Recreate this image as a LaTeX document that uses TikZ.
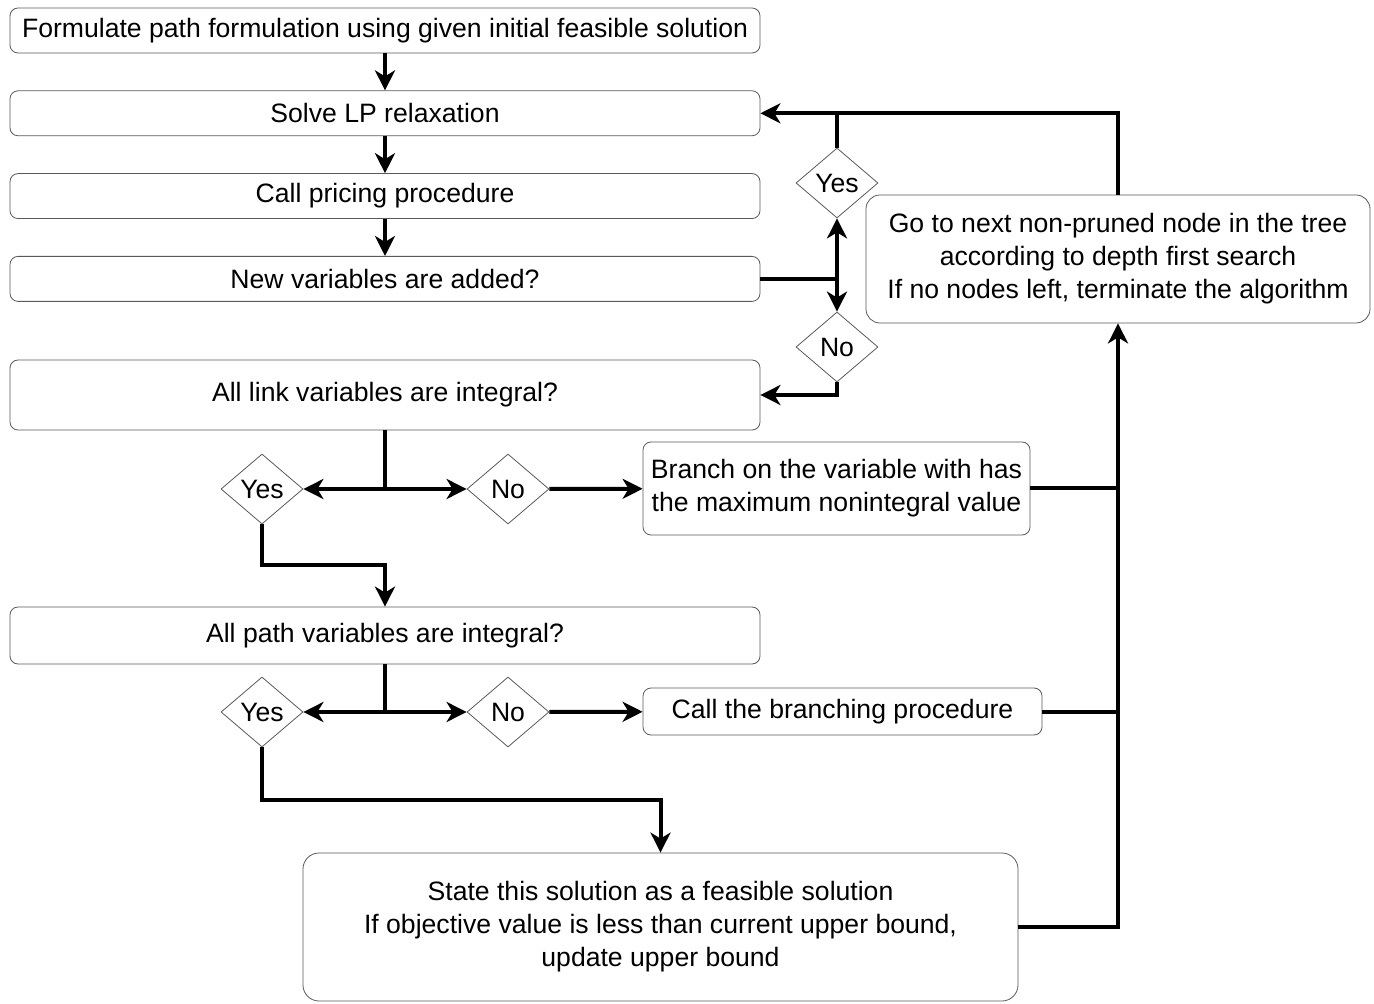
\documentclass[tikz,border=0pt]{standalone}
\usepackage{fontspec}
\setmainfont{Liberation Sans}
\usetikzlibrary{arrows.meta,positioning,shapes.geometric}

\begin{document}
\begin{tikzpicture}[
        x=0.5pt, y=-0.5pt,
        box/.style={draw=black!65, rounded corners=4pt, align=center, inner sep=1pt,
          font=\fontsize{13.3}{16.5}\selectfont, minimum height=22.5pt},
        wide/.style={box, minimum width=375pt},
        decision/.style={draw=black!65, diamond, inner sep=0pt, minimum width=41pt,
          minimum height=35pt, font=\fontsize{13.3}{14}\selectfont},
        arrow/.style={-{Stealth[length=10pt, width=10pt, inset=3pt]}, line width=2pt},
        link/.style={line width=2pt},
        node distance=18.5pt and 47pt
      ]
        \useasboundingbox (0,0) rectangle (1374,1004);
        % main column
        \node[wide] (form) at (385,30.5) {Formulate path formulation using given initial feasible solution};
        \node[wide, below=of form] (solve) {Solve LP relaxation};
        \node[wide, below=of solve] (pricing) {Call pricing procedure};
        \node[wide, below=of pricing] (newvar) {New variables are added?};
        \node[wide, minimum height=35pt] (linkint) at (385,395) {All link variables are integral?};
        \node[wide, minimum height=28.5pt] (pathint) at (385,635.5) {All path variables are integral?};
        % decisions
        \node[decision] (yesnew) at (837,183) {Yes};
        \node[decision] (nonew) at (837,347) {No};
        \node[decision] (yeslink) at (262,489) {Yes};
        \node[decision] (nolink) at (508,489) {No};
        \node[decision] (yespath) at (262,712) {Yes};
        \node[decision] (nopath) at (508,712) {No};
        % right side
        \node[box, rounded corners=7pt, minimum width=252pt, minimum height=64pt] (next) at (1118,259)
          {Go to next non-pruned node in the tree\\according to depth first search\\If no nodes left, terminate the algorithm};
        \node[box, minimum width=193.5pt, minimum height=46.5pt] (branch) at (836.5,488.5)
          {Branch on the variable with has\\the maximum nonintegral value};
        \node[box, minimum width=199.5pt, minimum height=23.5pt] (callbr) at (842.5,711.5) {Call the branching procedure};
        \node[box, rounded corners=8pt, minimum width=357.5pt, minimum height=74pt] (state) at (660.5,927)
          {State this solution as a feasible solution\\If objective value is less than current upper bound,\\update upper bound};
        % junctions
        \coordinate (jnew) at (newvar.east -| yesnew);
        \coordinate (jlink) at (linkint.south |- yeslink);
        \coordinate (jpath) at (pathint.south |- yespath);
        % connectors
        \draw[arrow] (form) -- (solve);
        \draw[arrow] (solve) -- (pricing);
        \draw[arrow] (pricing) -- (newvar);
        \draw[link] (newvar.east) -- (jnew);
        \draw[arrow] (jnew) -- (yesnew);
        \draw[arrow] (jnew) -- (nonew);
        \draw[link] (next.north) |- (yesnew.north |- solve.east);
        \draw[arrow] (yesnew.north) |- (solve.east);
        \draw[arrow] (nonew.south) |- (linkint.east);
        \draw[link] (linkint.south) -- (jlink);
        \draw[arrow] (jlink) -- (yeslink);
        \draw[arrow] (jlink) -- (nolink);
        \draw[arrow] (nolink) -- (branch);
        \draw[arrow] (yeslink.south) -- ++(0,41) -| (pathint.north);
        \draw[link] (pathint.south) -- (jpath);
        \draw[arrow] (jpath) -- (yespath);
        \draw[arrow] (jpath) -- (nopath);
        \draw[arrow] (nopath) -- (callbr);
        \draw[arrow] (yespath.south) -- ++(0,53) -| (state.north);
        \draw[link] (branch.east) -- (branch.east -| next.south);
        \draw[link] (callbr.east) -- (callbr.east -| next.south);
        \draw[arrow] (state.east) -| (next.south);
      \end{tikzpicture}
\end{document}
